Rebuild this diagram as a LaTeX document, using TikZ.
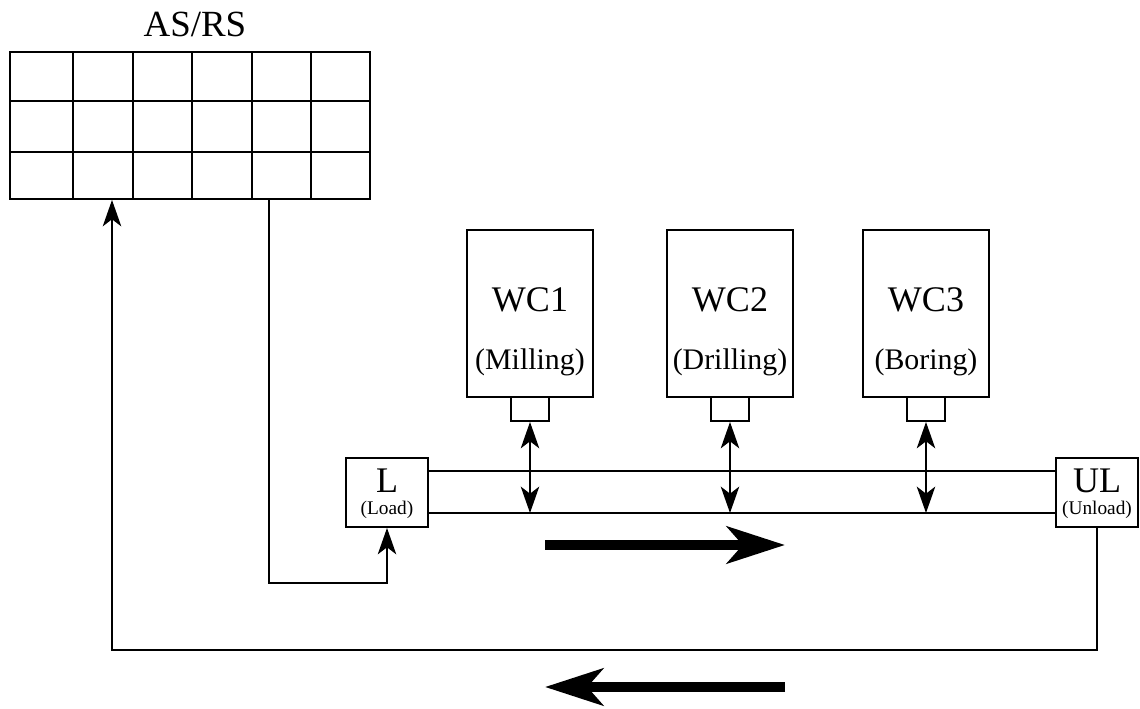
\documentclass[tikz,border=0pt]{standalone}
\usepackage{fontspec}
\setmainfont{Liberation Serif}
\usetikzlibrary{arrows.meta}
\begin{document}
\begin{tikzpicture}[x=0.02cm,y=-0.02cm, line width=1.1pt,
  box/.style={draw, inner sep=0pt, line width=1.1pt},
  conn/.style={line width=1.1pt, -{Stealth[length=15pt,width=10.5pt,inset=4pt]}},
  dbl/.style={line width=1.1pt, {Stealth[length=15pt,width=10.5pt,inset=4pt]}-{Stealth[length=15pt,width=10.5pt,inset=4pt]}},
  big/.style={line width=5.7pt, -{Stealth[length=33pt,width=21pt,inset=9pt]}},
  txt/.style={inner sep=0pt},
  bigfont/.style={txt, font=\fontsize{20.5}{24}\selectfont},
  midfont/.style={txt, font=\fontsize{17}{19}\selectfont},
  smallfont/.style={txt, font=\fontsize{11}{13}\selectfont}]
\useasboundingbox (0,0) rectangle (1140,709);

% AS/RS
\node[txt, font=\fontsize{21}{24}\selectfont] (title) at (195,24) {AS/RS};
\node[box, minimum width=7.2cm, minimum height=2.94cm] (asrs) at (190,125.5) {};
\foreach \x in {73,133,192,252,311} \draw (\x,52) -- (\x,199);
\foreach \y in {101,152} \draw (10,\y) -- (370,\y);

% Work centers
\foreach \n/\x/\lab in {1/530/Milling,2/730/Drilling,3/926/Boring}{
  \node[box, minimum width=2.52cm, minimum height=3.34cm] (wc\n) at (\x,313.5) {};
  \node[bigfont] (wct\n) at (\x,300) {WC\n};
  \node[midfont] (wcl\n) at (\x,362) {(\lab)};
  \node[box, minimum width=0.76cm, minimum height=0.48cm] (s\n) at (\x,409) {};
}

% Load / Unload
\node[box, minimum width=1.64cm, minimum height=1.38cm] (L) at (387,492.5) {};
\node[bigfont] (Lt) at (387,481) {L};
\node[smallfont] (Ll) at (387,510) {(Load)};
\node[box, minimum width=1.64cm, minimum height=1.38cm] (UL) at (1097,492.5) {};
\node[bigfont] (ULt) at (1097,481) {UL};
\node[smallfont] (ULl) at (1097,510) {(Unload)};

% Conveyor
\coordinate (ctop) at (0,471);
\coordinate (cbot) at (0,513);
\draw (L.east |- ctop) -- (UL.west |- ctop);
\draw (L.east |- cbot) -- (UL.west |- cbot);

% Double arrows
\foreach \n in {1,2,3}{
  \draw[dbl] (s\n.south) -- (s\n.south |- cbot);
}

% AS/RS to Load
\coordinate (xa) at (269,583);
\draw[conn] (asrs.south -| xa) -- (xa) -| (L.south);

% Unload back to AS/RS
\coordinate (ret) at (112,650);
\draw[conn] (UL.south) |- (ret) -- (asrs.south -| ret);

% Flow arrows
\coordinate (ra1) at (545,545);
\coordinate (ra2) at (785,545);
\draw[big] (ra1) -- (ra2);
\coordinate (la1) at (785,687);
\coordinate (la2) at (545,687);
\draw[big] (la1) -- (la2);
\end{tikzpicture}
\end{document}
